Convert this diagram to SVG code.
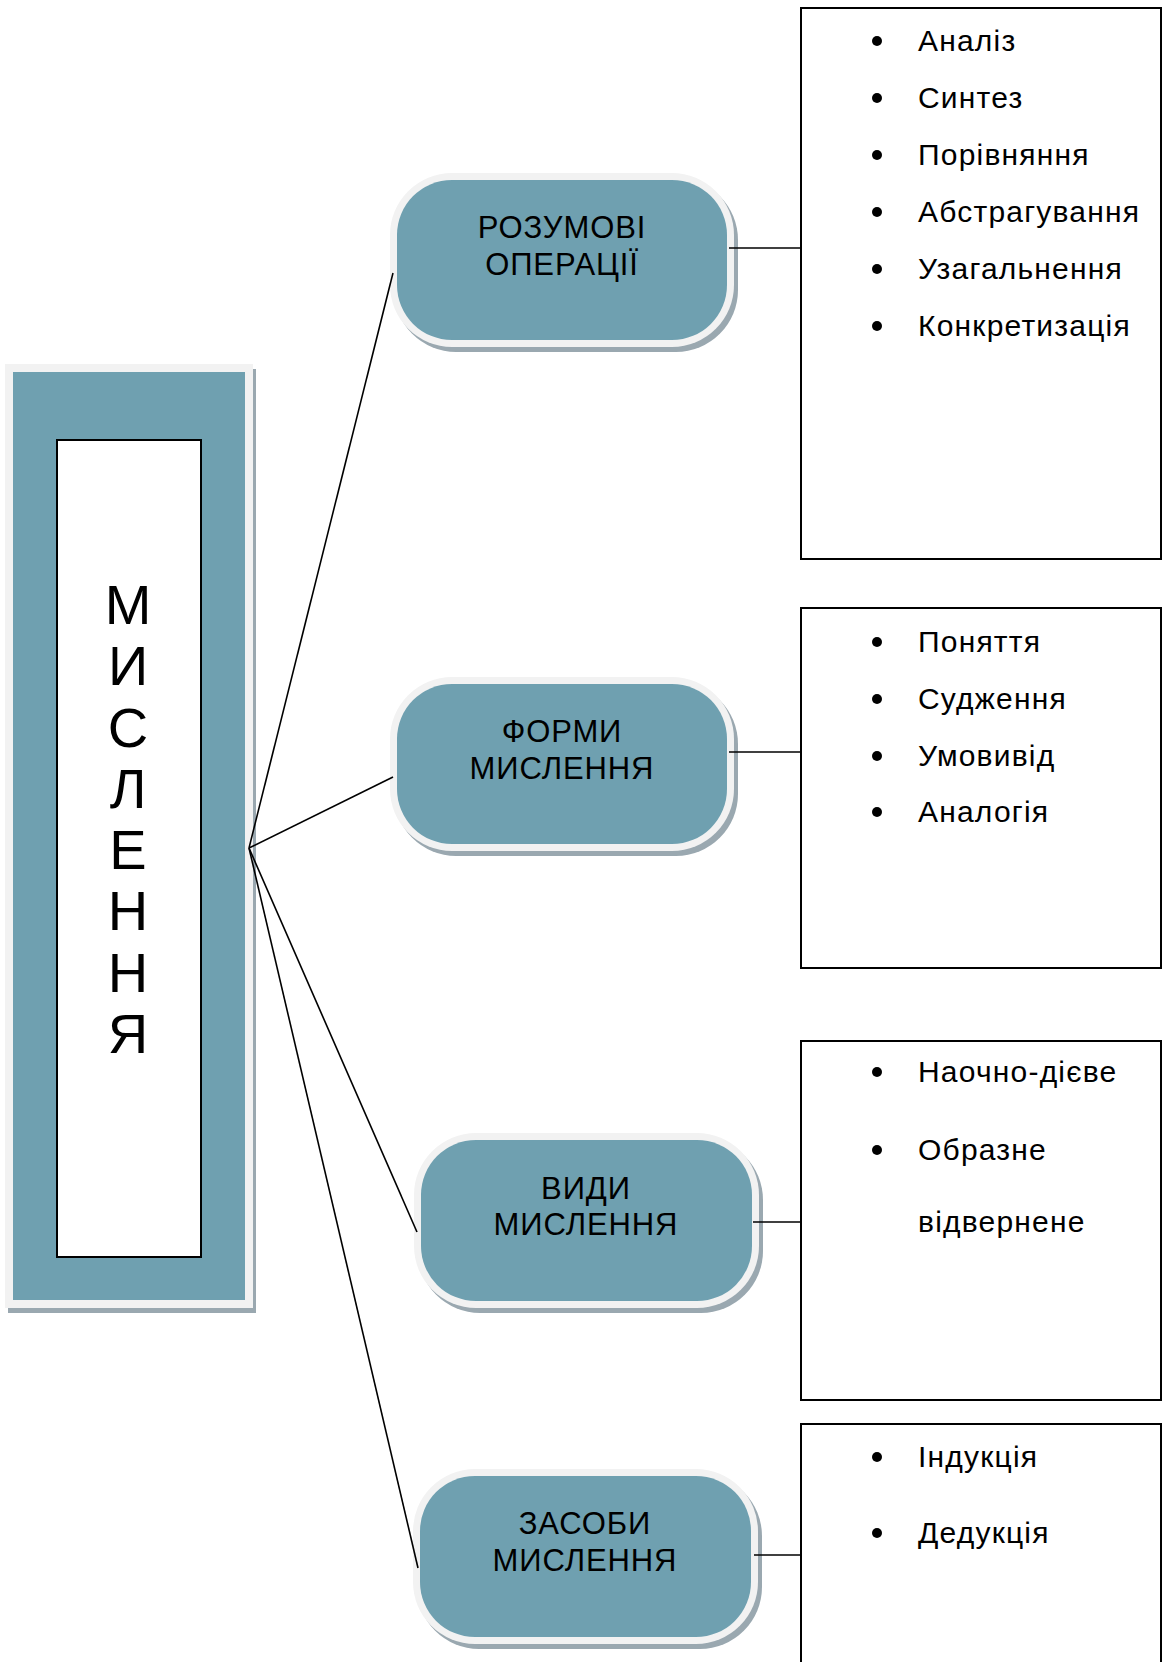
<svg xmlns="http://www.w3.org/2000/svg" width="1165" height="1662" viewBox="0 0 1165 1662">
<style>
.shadow{fill:#9aa8b0}
.rim{fill:#f2f2f2}
.teal{fill:#6fa0b0}
.box{fill:#ffffff;stroke:#000000;stroke-width:2}
.lbl{font-family:"Liberation Sans",Arial,sans-serif;font-size:31px;letter-spacing:0.9px;fill:#000;text-anchor:middle}
.item{font-family:"Liberation Sans",Arial,sans-serif;font-size:30px;letter-spacing:1.2px;fill:#000}
.big{font-family:"Liberation Sans",Arial,sans-serif;font-size:56px;fill:#000;text-anchor:middle}
.conn line{stroke:#000;stroke-width:1.6;fill:none}
</style>
<rect width="1165" height="1662" fill="#ffffff"/>

<g id="main">
  <rect class="shadow" x="8" y="369" width="248" height="944"/>
  <rect class="rim" x="5" y="364" width="248" height="944"/>
  <rect class="teal" x="13" y="372" width="232" height="928"/>
  <rect x="57" y="440" width="144" height="817" fill="#ffffff" stroke="#000" stroke-width="2"/>
  <text class="big" x="128" y="624">М</text>
  <text class="big" x="128" y="685">И</text>
  <text class="big" x="128" y="747">С</text>
  <text class="big" x="128" y="808">Л</text>
  <text class="big" x="128" y="869">Е</text>
  <text class="big" x="128" y="930">Н</text>
  <text class="big" x="128" y="992">Н</text>
  <text class="big" x="128" y="1053">Я</text>
</g>

<g id="node-operations">
  <rect class="shadow" x="394" y="178" width="344" height="174" rx="62"/>
  <rect class="rim" x="390" y="173" width="344" height="174" rx="62"/>
  <rect class="teal" x="397" y="180" width="330" height="160" rx="55"/>
  <text class="lbl" x="562" y="238">РОЗУМОВІ</text>
  <text class="lbl" x="562" y="275">ОПЕРАЦІЇ</text>
</g>

<g id="node-forms">
  <rect class="shadow" x="394" y="682" width="344" height="174" rx="62"/>
  <rect class="rim" x="390" y="677" width="344" height="174" rx="62"/>
  <rect class="teal" x="397" y="684" width="330" height="160" rx="55"/>
  <text class="lbl" x="562" y="742">ФОРМИ</text>
  <text class="lbl" x="562" y="779">МИСЛЕННЯ</text>
</g>

<g id="node-kinds">
  <rect class="shadow" x="418" y="1138" width="345" height="175" rx="62"/>
  <rect class="rim" x="414" y="1133" width="345" height="175" rx="62"/>
  <rect class="teal" x="421" y="1140" width="331" height="161" rx="55"/>
  <text class="lbl" x="586" y="1199">ВИДИ</text>
  <text class="lbl" x="586" y="1235">МИСЛЕННЯ</text>
</g>

<g id="node-means">
  <rect class="shadow" x="417" y="1474" width="345" height="175" rx="62"/>
  <rect class="rim" x="413" y="1469" width="345" height="175" rx="62"/>
  <rect class="teal" x="420" y="1476" width="331" height="161" rx="55"/>
  <text class="lbl" x="585" y="1534">ЗАСОБИ</text>
  <text class="lbl" x="585" y="1571">МИСЛЕННЯ</text>
</g>

<g id="list-operations">
  <rect class="box" x="801" y="8" width="360" height="551"/>
  <circle cx="877" cy="41" r="5"/><text class="item" x="918" y="51">Аналіз</text>
  <circle cx="877" cy="98" r="5"/><text class="item" x="918" y="108">Синтез</text>
  <circle cx="877" cy="155" r="5"/><text class="item" x="918" y="165">Порівняння</text>
  <circle cx="877" cy="212" r="5"/><text class="item" x="918" y="222">Абстрагування</text>
  <circle cx="877" cy="269" r="5"/><text class="item" x="918" y="279">Узагальнення</text>
  <circle cx="877" cy="326" r="5"/><text class="item" x="918" y="336">Конкретизація</text>
</g>

<g id="list-forms">
  <rect class="box" x="801" y="608" width="360" height="360"/>
  <circle cx="877" cy="642" r="5"/><text class="item" x="918" y="652">Поняття</text>
  <circle cx="877" cy="699" r="5"/><text class="item" x="918" y="709">Судження</text>
  <circle cx="877" cy="756" r="5"/><text class="item" x="918" y="766">Умовивід</text>
  <circle cx="877" cy="812" r="5"/><text class="item" x="918" y="822">Аналогія</text>
</g>

<g id="list-kinds">
  <rect class="box" x="801" y="1041" width="360" height="359"/>
  <circle cx="877" cy="1072" r="5"/><text class="item" x="918" y="1082">Наочно-дієве</text>
  <circle cx="877" cy="1150" r="5"/><text class="item" x="918" y="1160">Образне</text>
  <text class="item" x="918" y="1232">відвернене</text>
</g>

<g id="list-means">
  <rect class="box" x="801" y="1424" width="360" height="260"/>
  <circle cx="877" cy="1457" r="5"/><text class="item" x="918" y="1467">Індукція</text>
  <circle cx="877" cy="1533" r="5"/><text class="item" x="918" y="1543">Дедукція</text>
</g>

<g id="connectors" class="conn">
  <line x1="249" y1="848" x2="393" y2="273"/>
  <line x1="249" y1="848" x2="393" y2="777"/>
  <line x1="249" y1="848" x2="417" y2="1232"/>
  <line x1="249" y1="848" x2="418" y2="1568"/>
  <line x1="729" y1="248" x2="801" y2="248"/>
  <line x1="729" y1="752" x2="801" y2="752"/>
  <line x1="753" y1="1222" x2="801" y2="1222"/>
  <line x1="754" y1="1555" x2="801" y2="1555"/>
</g>
</svg>
